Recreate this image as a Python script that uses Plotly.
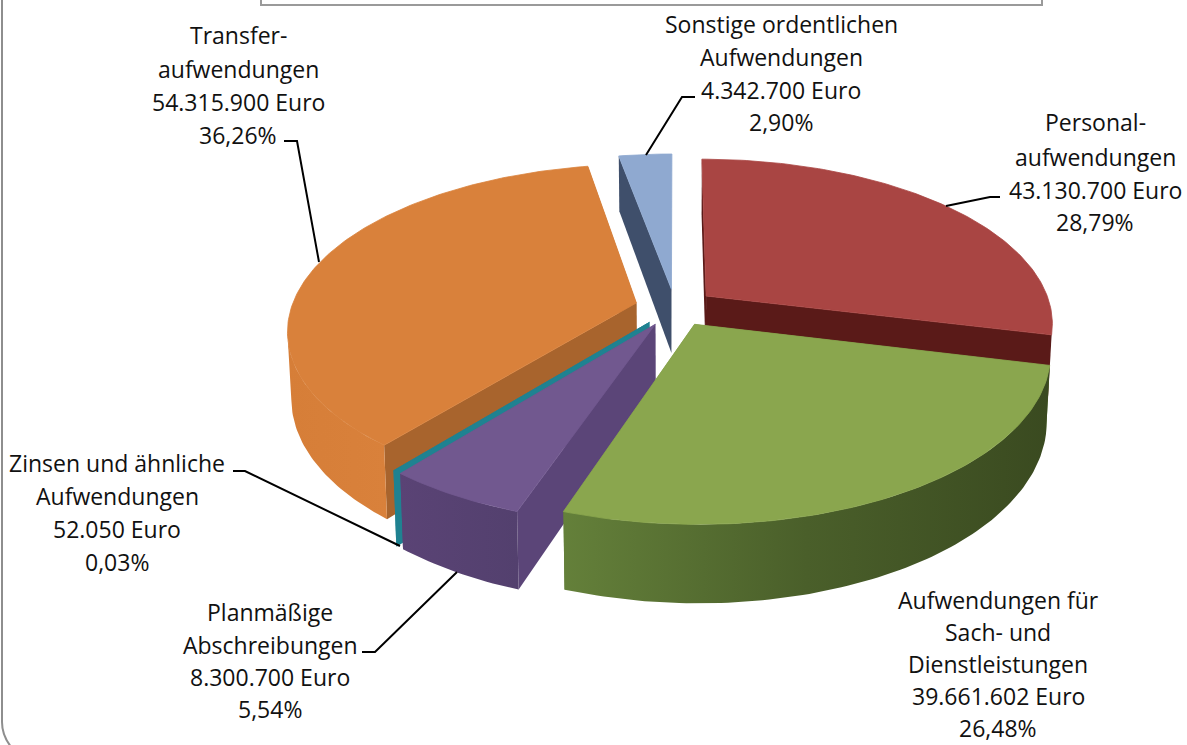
import math
import plotly.graph_objects as go

# ---- data ----
categories = ["Personalaufwendungen", "Aufwendungen für Sach- und Dienstleistungen",
              "Planmäßige Abschreibungen", "Zinsen und ähnliche Aufwendungen",
              "Transferaufwendungen", "Sonstige ordentlichen Aufwendungen"]
values = [43130700, 39661602, 8300700, 52050, 54315900, 4342700]
top_colors = ["#A94543", "#8AA64E", "#71588F", "#1F8291", "#D9813B", "#8FA9D0"]
outer_wall_colors = [["#5A1A18", "#5A1A18"], ["#64803A", "#4A5F2A", "#3A4A20"],
                     ["#5A4375", "#53406E"], ["#1F8291", "#1F8291"],
                     ["#D67E38", "#D9813B"], ["#3F4F6B", "#3F4F6B"]]
cut_colors = ["#5A1A18", "#5C7A34", "#5B4578", "#1F8291", "#A8642D", "#3F4F6B"]
draw_order = [5, 0, 4, 3, 2, 1]

label_lines = [
    ["Personal-", "aufwendungen", "43.130.700 Euro", "28,79%"],
    ["Aufwendungen für", "Sach- und", "Dienstleistungen", "39.661.602 Euro", "26,48%"],
    ["Planmäßige", "Abschreibungen", "8.300.700 Euro", "5,54%"],
    ["Zinsen und ähnliche", "Aufwendungen", "52.050 Euro", "0,03%"],
    ["Transfer-", "aufwendungen", "54.315.900 Euro", "36,26%"],
    ["Sonstige ordentlichen", "Aufwendungen", "4.342.700 Euro", "2,90%"],
]
label_x = [1095, 998, 270, 117, 238, 781]
label_y = [[122, 157, 190, 222], [600, 632, 664, 696, 728], [612, 645, 677, 709],
           [463, 496, 529, 562], [35, 69, 102, 135], [24, 57, 90, 122]]
leader_x = [[946, 990, 1000], [], [457, 375, 362], [400, 245, 233], [319, 297, 284], [646, 682, 695]]
leader_y = [[206, 197, 197], [], [572, 652, 652], [546, 471, 471], [262, 141, 141], [155, 97, 97]]

# ---- projection of the tilted, exploded pie onto the axes ----
CX, CY, S, TILT, PERSP, EXPLODE, DEPTH, SHRINK = 675, 307.5, 345, 0.47, 0.16, 0.116, 65, 0.99


def project(u, v, bottom=False):
    w = 1 + PERSP * v
    x = S * u / w
    y = -S * TILT * v / w
    if bottom:
        x *= SHRINK
        y += DEPTH / w
    return CX + x, CY + y


total = sum(values)
fig = go.Figure()


def add_poly(pts, colors, edge=False):
    xs = [p[0] for p in pts] + [pts[0][0]]
    ys = [p[1] for p in pts] + [pts[0][1]]
    scale = [[i / (len(colors) - 1), c] for i, c in enumerate(colors)]
    line = dict(color=colors[0], width=0.8) if edge else dict(width=0)
    fig.add_trace(go.Scatter(x=xs, y=ys, mode="lines", fill="toself", line=line,
                             fillgradient=dict(type="horizontal", colorscale=scale),
                             hoverinfo="skip", showlegend=False))


starts = []
acc = 0
for val in values:
    starts.append(acc)
    acc += val

for i in draw_order:
    a0 = starts[i] / total * 2 * math.pi
    a1 = (starts[i] + values[i]) / total * 2 * math.pi
    am = (a0 + a1) / 2
    ox, oy = EXPLODE * math.sin(am), EXPLODE * math.cos(am)
    n = max(2, int((a1 - a0) * 60))
    angles = [a0 + (a1 - a0) * k / n for k in range(n + 1)]
    rim = [(ox + math.sin(a), oy + math.cos(a)) for a in angles]
    top_rim = [project(u, v) for u, v in rim]
    bot_rim = [project(u, v, True) for u, v in rim]
    apex_t, apex_b = project(ox, oy), project(ox, oy, True)
    # the two cut faces
    add_poly([apex_t, top_rim[0], bot_rim[0], apex_b], [cut_colors[i], cut_colors[i]])
    add_poly([apex_t, top_rim[-1], bot_rim[-1], apex_b], [cut_colors[i], cut_colors[i]])
    # the outer wall: only the front arc, between the rim's right and left extremes
    circle = [2 * math.pi * k / 720 for k in range(720)]
    extreme = [project(ox + math.sin(a), oy + math.cos(a))[0] for a in circle]
    a_right = circle[extreme.index(max(extreme))]
    a_left = circle[extreme.index(min(extreme))]
    front = [k for k, a in enumerate(angles) if a_right <= a <= a_left]
    if len(front) >= 2:
        wall_top = [top_rim[k] for k in front]
        wall_bot = [bot_rim[k] for k in front]
        add_poly(wall_top + wall_bot[::-1], outer_wall_colors[i])
    # the top
    add_poly([apex_t] + top_rim, [top_colors[i], top_colors[i]], edge=True)

for xs, ys in zip(leader_x, leader_y):
    if xs:
        fig.add_trace(go.Scatter(x=xs, y=ys, mode="lines", line=dict(color="#000000", width=2),
                                 hoverinfo="skip", showlegend=False))

annotations = []
for lines, x, ys in zip(label_lines, label_x, label_y):
    for line, y in zip(lines, ys):
        annotations.append(dict(x=x, y=y, text=line, showarrow=False, xanchor="center", yanchor="middle",
                                font=dict(family="Open Sans", size=23, color="#111111")))

fig.update_layout(
    width=1187, height=745, autosize=False, margin=dict(l=0, r=0, t=0, b=0),
    paper_bgcolor="white", plot_bgcolor="white", showlegend=False,
    xaxis=dict(range=[0, 1187], visible=False, fixedrange=True),
    yaxis=dict(range=[745, 0], visible=False, fixedrange=True),
    annotations=annotations,
    shapes=[
        dict(type="path", path="M 2,-5 L 2,722 Q 2,736 12,748", line=dict(color="#8E8E8E", width=2)),
        dict(type="path", path="M 261,-5 L 261,5 L 1042,5 L 1042,-5", line=dict(color="#9A9A9A", width=2)),
    ],
)
fig.write_html("out.html", config={"displayModeBar": False},
               post_script="document.body.style.margin='0';document.documentElement.style.overflow='hidden';")
